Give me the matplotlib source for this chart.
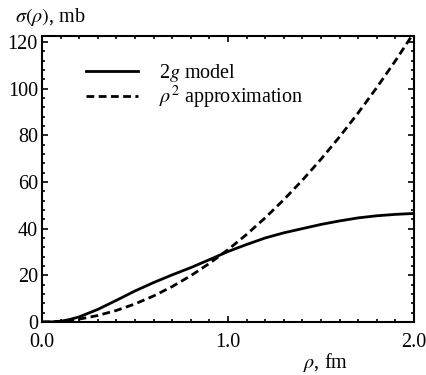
import matplotlib
matplotlib.use("Agg")
import matplotlib.pyplot as plt
from matplotlib.ticker import MultipleLocator, FixedLocator

plt.rcParams['font.family'] = ['Liberation Serif', 'DejaVu Serif']
plt.rcParams['mathtext.fontset'] = 'stix'

# values
rho = [0.0, 0.05, 0.1, 0.15, 0.2, 0.3, 0.4, 0.5, 0.6, 0.7, 0.8, 0.9, 1.0,
       1.1, 1.2, 1.3, 1.4, 1.5, 1.6, 1.7, 1.8, 1.9, 2.0]
sigma_2g = [0.0, 0.05, 0.3, 1.1, 2.2, 5.4, 9.3, 13.3, 16.9, 20.2, 23.3, 26.7, 30.2,
            33.2, 36.0, 38.2, 40.0, 41.8, 43.3, 44.6, 45.5, 46.1, 46.5]
sigma_rho2 = [0.0, 0.08, 0.31, 0.70, 1.24, 2.79, 4.96, 7.75, 11.16, 15.19, 19.84, 25.11, 31.0,
              37.51, 44.64, 52.39, 60.76, 69.75, 79.36, 89.59, 100.44, 111.91, 124.0]

x_ticks = [0.0, 1.0, 2.0]
x_ticklabels = ['0.0', '1.0', '2.0']

fig = plt.figure(figsize=(4.27, 3.75), dpi=100)
ax = fig.add_axes([0.0984, 0.1413, 0.8712, 0.7627])

ax.plot(rho, sigma_2g, color='black', lw=2.0, label=r'2$g$ model')
ax.plot(rho, sigma_rho2, color='black', lw=2.0, linestyle=(0, (2.8, 1.6)),
        label=r'$\rho^2$ approximation')

ax.set_xlim(0, 2)
ax.set_ylim(0, 122.5)

ax.xaxis.set_major_locator(FixedLocator(x_ticks))
ax.set_xticklabels(x_ticklabels)
ax.xaxis.set_minor_locator(MultipleLocator(0.1))
ax.yaxis.set_major_locator(MultipleLocator(20))
ax.yaxis.set_minor_locator(MultipleLocator(4))

ax.tick_params(which='both', direction='in', top=True, right=True,
               labelsize=14.5, width=1.2)
ax.tick_params(axis='x', pad=8)
ax.tick_params(axis='y', pad=3)
ax.tick_params(which='major', length=4.5)
ax.tick_params(which='minor', length=2.3)
for s in ax.spines.values():
    s.set_linewidth(1.5)

fig.text(0.035, 0.955, r'$\sigma(\rho)$, mb', fontsize=14.5, va='center', ha='left')
fig.text(0.71, 0.032, r'$\rho$, fm', fontsize=14.5, va='center', ha='left')

ax.legend(loc='upper left', bbox_to_anchor=(0.118, 0.91), frameon=False,
          fontsize=14.5, handlelength=2.6, handletextpad=1.05,
          labelspacing=0.0, borderpad=0, borderaxespad=0)

fig.savefig('out.png', dpi=100)
